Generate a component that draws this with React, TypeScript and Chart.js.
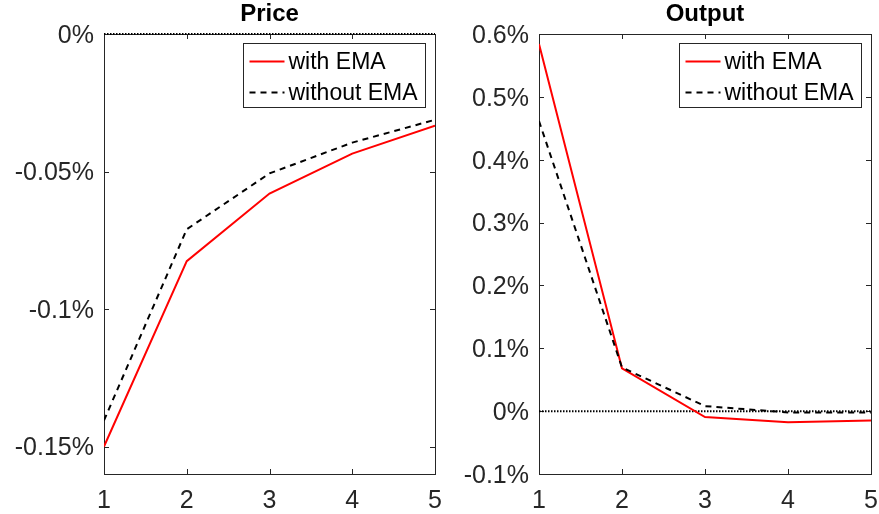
import React, { useEffect, useRef } from "react";
import { Chart, registerables } from "chart.js";

Chart.register(...registerables);

const periods = [1, 2, 3, 4, 5];
const xTicks = [1, 2, 3, 4, 5];

const priceWithEMA = [-0.15, -0.0826, -0.058, -0.0435, -0.0333];
const priceWithoutEMA = [-0.1405, -0.071, -0.0507, -0.0395, -0.0312];
const priceTicks = [-0.15, -0.1, -0.05, 0];

const outputWithEMA = [0.584, 0.068, -0.0095, -0.0175, -0.015];
const outputWithoutEMA = [0.4615, 0.0695, 0.008, -0.002, -0.002];
const outputTicks = [-0.1, 0, 0.1, 0.2, 0.3, 0.4, 0.5, 0.6];

const zeroLine = [0, 0, 0, 0, 0];
const seriesLabels = ["with EMA", "without EMA"];

const FONT = "'Liberation Sans', Arial, Helvetica, sans-serif";
const AXIS_COLOR = "#262626";

const framePlugin = {
  id: "frame",
  beforeDatasetsDraw(chart: any) {
    const { ctx, chartArea: a, scales } = chart;
    ctx.save();
    ctx.strokeStyle = AXIS_COLOR;
    ctx.lineWidth = 1;
    ctx.strokeRect(Math.round(a.left) + 0.5, Math.round(a.top) + 0.5, Math.round(a.right - a.left), Math.round(a.bottom - a.top));
    const tl = 5;
    ctx.beginPath();
    scales.x.ticks.forEach((t: any) => {
      const px = Math.round(scales.x.getPixelForValue(t.value)) + 0.5;
      ctx.moveTo(px, a.bottom);
      ctx.lineTo(px, a.bottom - tl);
      ctx.moveTo(px, a.top);
      ctx.lineTo(px, a.top + tl);
    });
    scales.y.ticks.forEach((t: any) => {
      const py = Math.round(scales.y.getPixelForValue(t.value)) + 0.5;
      ctx.moveTo(a.left, py);
      ctx.lineTo(a.left + tl, py);
      ctx.moveTo(a.right, py);
      ctx.lineTo(a.right - tl, py);
    });
    ctx.stroke();
    ctx.restore();
  },
  afterDraw(chart: any, _args: any, opts: any) {
    const { ctx, chartArea: a } = chart;
    ctx.save();
    // title
    ctx.fillStyle = "#000";
    ctx.font = `bold 24px ${FONT}`;
    ctx.textAlign = "center";
    ctx.textBaseline = "middle";
    ctx.fillText(opts.title, (a.left + a.right) / 2, 14);
    // legend
    const w = 182;
    const h = 64;
    const x0 = Math.round(a.right - 10 - w) + 0.5;
    const y0 = Math.round(a.top + 9) + 0.5;
    ctx.fillStyle = "#fff";
    ctx.fillRect(x0, y0, w, h);
    ctx.strokeStyle = AXIS_COLOR;
    ctx.lineWidth = 1;
    ctx.strokeRect(x0, y0, w, h);
    const items = chart.data.datasets.filter((d: any) => !d.hideInLegend);
    items.forEach((d: any, i: number) => {
      const cy = y0 + 18 + i * 31;
      ctx.beginPath();
      ctx.strokeStyle = d.borderColor;
      ctx.lineWidth = d.borderWidth;
      ctx.setLineDash(d.borderDash || []);
      ctx.moveTo(x0 + 6, cy);
      ctx.lineTo(x0 + 41, cy);
      ctx.stroke();
      ctx.setLineDash([]);
      ctx.fillStyle = "#000";
      ctx.font = `23px ${FONT}`;
      ctx.textAlign = "left";
      ctx.textBaseline = "middle";
      ctx.fillText(d.label, x0 + 45, cy + 1);
    });
    ctx.restore();
  },
};

function makeConfig(
  title: string,
  withEMA: number[],
  withoutEMA: number[],
  yTicks: number[],
  yMin: number,
  yMax: number,
  padLeft: number,
  padRight: number,
  yWidth: number
): any {
  const pts = (arr: number[]) => periods.map((p, i) => ({ x: p, y: arr[i] }));
  return {
    type: "line",
    data: {
      datasets: [
        {
          label: "zero",
          hideInLegend: true,
          data: pts(zeroLine),
          borderColor: "#000000",
          borderWidth: 2,
          borderDash: [1.5, 1.5],
          pointRadius: 0,
          tension: 0,
          clip: 4,
          order: 3,
        },
        {
          label: seriesLabels[0],
          data: pts(withEMA),
          borderColor: "#ff0000",
          borderWidth: 2,
          pointRadius: 0,
          tension: 0,
          order: 1,
        },
        {
          label: seriesLabels[1],
          data: pts(withoutEMA),
          borderColor: "#000000",
          borderWidth: 2,
          borderDash: [6, 5],
          pointRadius: 0,
          tension: 0,
          order: 0,
        },
      ],
    },
    options: {
      animation: false,
      responsive: false,
      maintainAspectRatio: false,
      layout: { autoPadding: false, padding: { left: padLeft, right: padRight, top: 34, bottom: 0 } },
      plugins: {
        legend: { display: false },
        title: { display: false },
        tooltip: { enabled: false },
        frame: { title },
      },
      scales: {
        x: {
          type: "linear",
          min: 1,
          max: 5,
          grid: { display: false, drawTicks: false },
          border: { display: false },
          afterBuildTicks: (s: any) => {
            s.ticks = xTicks.map((v) => ({ value: v }));
          },
          afterFit: (s: any) => {
            s.height = 40;
            s.paddingLeft = 0;
            s.paddingRight = 0;
          },
          ticks: {
            color: AXIS_COLOR,
            font: { family: FONT, size: 25 },
            padding: 12,
            maxRotation: 0,
            autoSkip: false,
          },
        },
        y: {
          type: "linear",
          min: yMin,
          max: yMax,
          grid: { display: false, drawTicks: false },
          border: { display: false },
          afterBuildTicks: (s: any) => {
            s.ticks = yTicks.map((v) => ({ value: v }));
          },
          afterFit: (s: any) => {
            s.width = yWidth;
            s.paddingTop = 0;
            s.paddingBottom = 0;
          },
          ticks: {
            color: AXIS_COLOR,
            font: { family: FONT, size: 25 },
            padding: 10,
            labelOffset: 2,
            autoSkip: false,
            callback: (v: any) => `${v}%`,
          },
        },
      },
    },
    plugins: [framePlugin],
  };
}

export default function App() {
  const leftRef = useRef<HTMLCanvasElement>(null);
  const rightRef = useRef<HTMLCanvasElement>(null);

  useEffect(() => {
    const c1 = new Chart(
      leftRef.current!,
      makeConfig("Price", priceWithEMA, priceWithoutEMA, priceTicks, -0.16, 0, 0, 444, 104)
    );
    const c2 = new Chart(
      rightRef.current!,
      makeConfig("Output", outputWithEMA, outputWithoutEMA, outputTicks, -0.1, 0.6, 440, 8, 99)
    );
    return () => {
      c1.destroy();
      c2.destroy();
    };
  }, []);

  const cs: React.CSSProperties = { position: "absolute", left: 0, top: 0, width: 879, height: 514 };
  return (
    <div style={{ position: "fixed", left: 0, top: 0, width: 879, height: 514, background: "#fff" }}>
      <canvas ref={leftRef} width={879} height={514} style={cs} />
      <canvas ref={rightRef} width={879} height={514} style={cs} />
    </div>
  );
}
